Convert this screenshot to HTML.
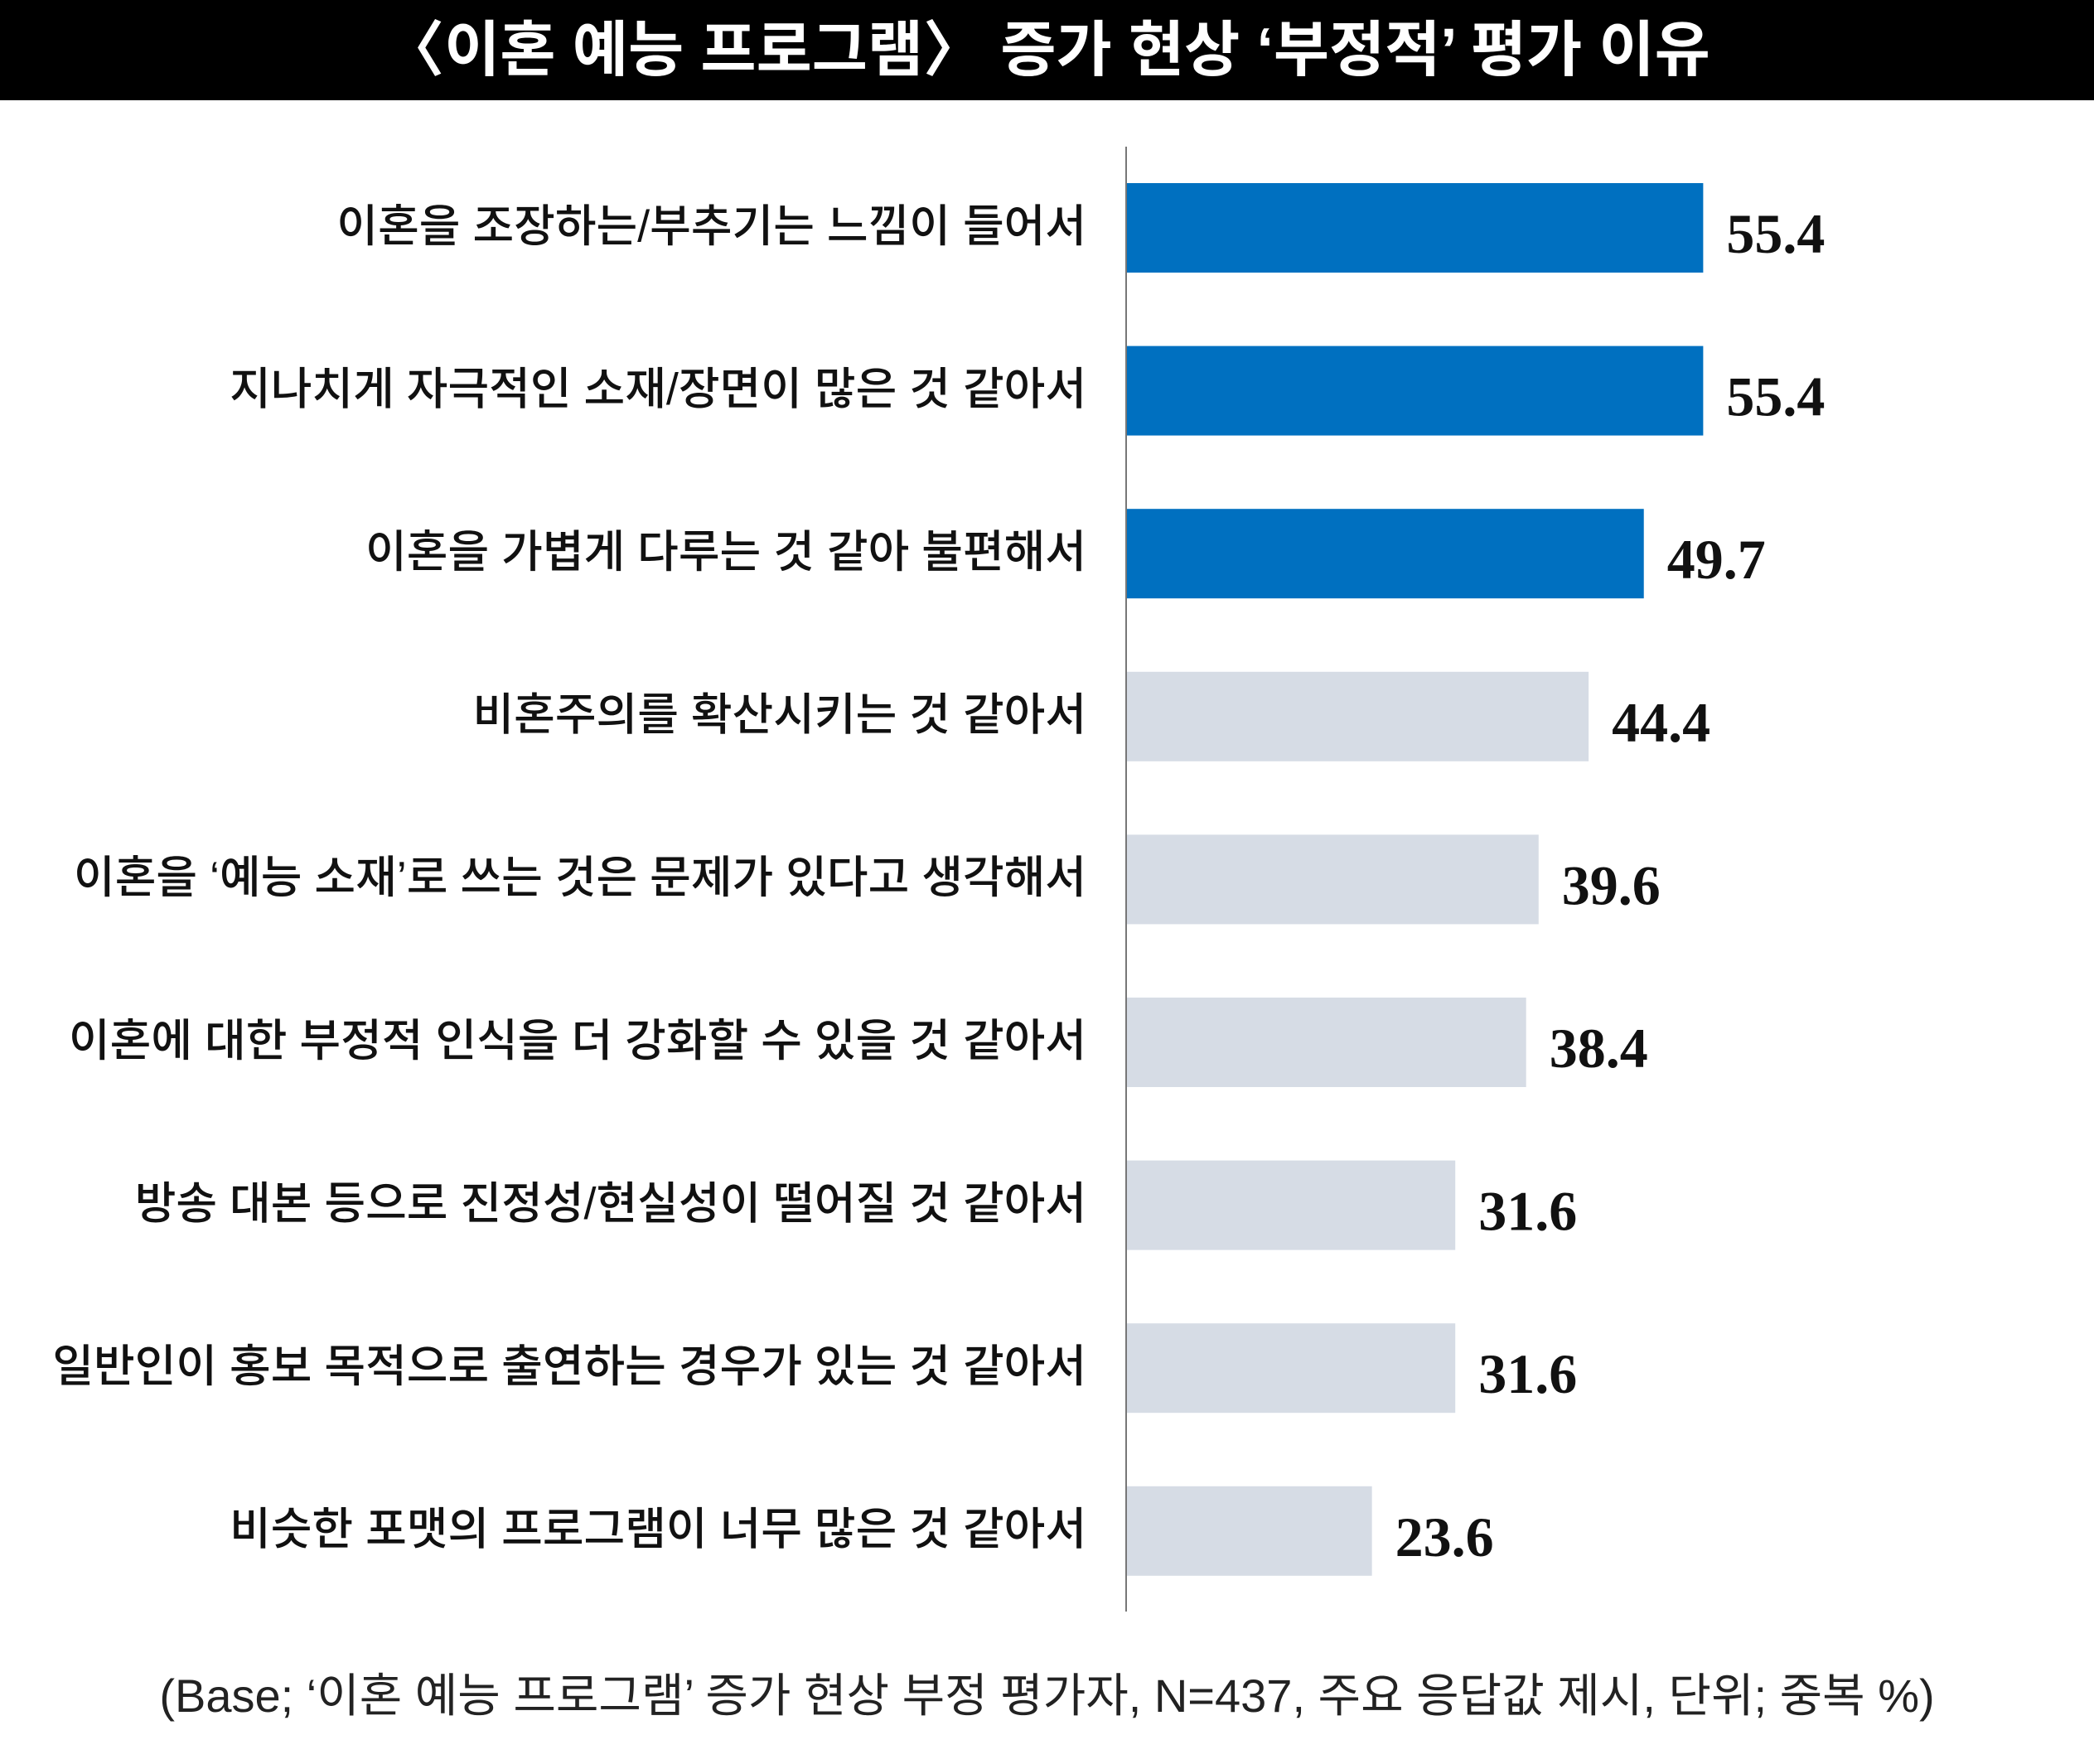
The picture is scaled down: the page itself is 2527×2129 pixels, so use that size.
<!DOCTYPE html>
<html><head><meta charset="utf-8">
<style>
body{margin:0;width:2527px;height:2129px;background:#fff;overflow:hidden;font-family:"Liberation Sans","Noto Sans CJK KR",sans-serif;}
#title{position:absolute;left:0;top:0;width:2527px;height:121px;background:#000;color:#fff;font-size:73px;font-weight:bold;text-align:center;line-height:121px;font-family:"Liberation Sans","Noto Sans CJK KR",sans-serif;}
#foot{position:absolute;left:0;top:2002px;width:2527px;text-align:center;font-size:56px;color:#222;}
</style></head><body>
<div id="title">〈이혼 예능 프로그램〉 증가 현상 ‘부정적’ 평가 이유</div>
<svg id="chart" width="2527" height="2129" style="position:absolute;left:0;top:0"></svg>
<div id="foot">(Base; ‘이혼 예능 프로그램’ 증가 현상 부정 평가자, N=437, 주요 응답값 제시, 단위; 중복 %)</div>
<script>
const categories=["이혼을 조장하는/부추기는 느낌이 들어서","지나치게 자극적인 소재/장면이 많은 것 같아서","이혼을 가볍게 다루는 것 같아 불편해서","비혼주의를 확산시키는 것 같아서","이혼을 ‘예능 소재’로 쓰는 것은 문제가 있다고 생각해서","이혼에 대한 부정적 인식을 더 강화할 수 있을 것 같아서","방송 대본 등으로 진정성/현실성이 떨어질 것 같아서","일반인이 홍보 목적으로 출연하는 경우가 있는 것 같아서","비슷한 포맷의 프로그램이 너무 많은 것 같아서"];
const values=[55.4,55.4,49.7,44.4,39.6,38.4,31.6,31.6,23.6];
const labels=["55.4","55.4","49.7","44.4","39.6","38.4","31.6","31.6","23.6"];
const highlighted=[true,true,true,false,false,false,false,false,false];
const NS="http://www.w3.org/2000/svg";
const svg=document.getElementById('chart');
const x0=1359, pxPerUnit=12.57;
const xs=v=>x0+v*pxPerUnit;
const ys=i=>221+i*196.6;
const bh=108;
function mk(t,a){const e=document.createElementNS(NS,t);for(const k in a)e.setAttribute(k,a[k]);svg.appendChild(e);return e;}
categories.forEach((c,i)=>{
  const r=mk('rect',{x:x0,y:ys(i),width:xs(values[i])-x0,height:bh,fill:highlighted[i]?'#0070C0':'#D6DCE5'});
  
  
  const l=mk('text',{x:1311,y:ys(i)+bh/2+2,'text-anchor':'end','dominant-baseline':'middle','font-size':54,'font-weight':500,fill:'#111','font-family':'"Liberation Sans","Noto Sans CJK KR",sans-serif'});
  l.textContent=c;
  
  
  const v=mk('text',{x:xs(values[i])+28,y:ys(i)+bh/2+30,'font-size':68,'font-weight':'bold',fill:'#111','font-family':'"Liberation Serif",serif'});
  v.textContent=labels[i];
  
  
});
const ax=mk('line',{x1:x0,y1:177,x2:x0,y2:1945,stroke:'#777','stroke-width':2});


</script>
</body></html>
